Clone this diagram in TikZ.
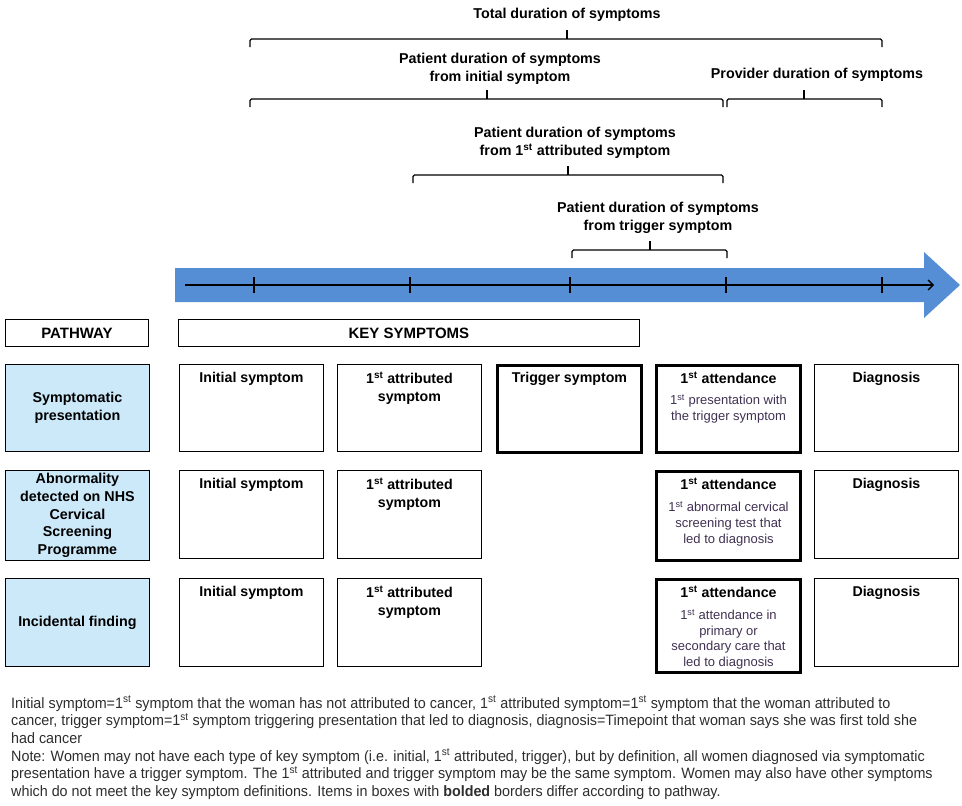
\documentclass[tikz,border=0pt]{standalone}
\usepackage{fontspec}
\setmainfont{Liberation Sans}
\newfontfamily\notefont[FakeStretch=0.955]{Liberation Sans}
\usetikzlibrary{arrows.meta,positioning}
\definecolor{arrowblue}{RGB}{85,142,213}
\definecolor{pathblue}{RGB}{204,233,250}
\definecolor{subtxt}{RGB}{64,49,82}
\definecolor{notetxt}{RGB}{45,45,45}
\newcommand\durbrace[4]{%
  \draw[brc] (#1,#4+8) -- (#1,#4) -- (#2,#4) -- (#2,#4+8);
  \draw[brc] (#3,#4) -- (#3,#4-9);}
\begin{document}
\begin{tikzpicture}[x=1pt,y=-1pt,
  brc/.style={line width=1.4pt, rounded corners=1.5pt},
  toplbl/.style={font=\bfseries\fontsize{14.3}{18}\selectfont, align=center, inner sep=0},
  cell/.style={draw, line width=0.9pt, minimum width=144, minimum height=#1, inner sep=0, anchor=north west},
  thickcell/.style={cell=#1, line width=3pt},
  pathcell/.style={cell=#1, fill=pathblue, align=center, font=\bfseries\fontsize{14.3}{17.8}\selectfont},
  hdr/.style={draw, line width=0.9pt, minimum height=27, inner sep=0, anchor=north west, font=\bfseries\fontsize{15}{16}\selectfont},
  ttl/.style={font=\bfseries\fontsize{14.2}{18}\selectfont, align=center, inner sep=0, anchor=north},
  sub/.style={font=\fontsize{13}{15.8}\selectfont, text=subtxt, align=center, inner sep=0, anchor=north},
]
\useasboundingbox (0,0) rectangle (962,806);

% ---- top labels and braces
\node[toplbl] (ltot) at (567,15) {Total duration of symptoms};
\durbrace{250}{882}{567}{39}
\node[toplbl] (lpi) at (500,69) {Patient duration of symptoms\\from initial symptom};
\durbrace{250}{723}{487}{99}
\node[toplbl] (lprov) at (817,75) {Provider duration of symptoms};
\durbrace{727}{882}{804}{99}
\node[toplbl] (lpa) at (575,143) {Patient duration of symptoms\\from 1\textsuperscript{st} attributed symptom};
\durbrace{413}{723}{568}{175}
\node[toplbl] (lpt) at (658,218) {Patient duration of symptoms\\from trigger symptom};
\durbrace{572}{727}{650}{250}

% ---- timeline arrow
\fill[arrowblue] (175,268) -- (924,268) -- (924,252) -- (960,285) -- (924,318) -- (924,302) -- (175,302) -- cycle;
\coordinate (tl) at (185,285);
\coordinate (tr) at (934,285);
\draw[line width=1.3pt, -{Straight Barb[length=5pt,width=10pt,line width=1.3pt]}] (tl) -- (tr);
\foreach \x in {254,410,570,726,882}
  \draw[line width=1.3pt] (\x,277) -- (\x,293);

% ---- header boxes
\node[hdr, minimum width=143] (hpath) at (5,319) {PATHWAY};
\node[hdr, minimum width=461] (hkey) at (178,319) {KEY SYMPTOMS};

% ---- row 1
\node[pathcell=87] (p1) at (5,364) {Symptomatic\\presentation};
\node[cell=87] (a1) at (179,364) {};
\node[cell=87] (b1) at (337,364) {};
\node[thickcell=87] (c1) at (496,364) {};
\node[thickcell=87] (d1) at (655,364) {};
\node[cell=87] (e1) at (814,364) {};
\node[ttl] (a1t) at ([yshift=-8]a1.north) {Initial symptom};
\node[ttl] (b1t) at ([yshift=-8]b1.north) {1\textsuperscript{st} attributed\\symptom};
\node[ttl] (c1t) at ([yshift=-8]c1.north) {Trigger symptom};
\node[ttl] (d1t) at ([yshift=-8]d1.north) {1\textsuperscript{st} attendance};
\node[sub] (d1s) at ([yshift=-10]d1t.south) {1\textsuperscript{st} presentation with\\the trigger symptom};
\node[ttl] (e1t) at ([yshift=-8]e1.north) {Diagnosis};

% ---- row 2
\node[pathcell=90] (p2) at (5,470) {Abnormality\\detected on NHS\\Cervical\\Screening\\Programme};
\node[cell=88] (a2) at (179,470) {};
\node[cell=88] (b2) at (337,470) {};
\node[thickcell=89] (d2) at (655,470) {};
\node[cell=88] (e2) at (814,470) {};
\node[ttl] (a2t) at ([yshift=-8]a2.north) {Initial symptom};
\node[ttl] (b2t) at ([yshift=-8]b2.north) {1\textsuperscript{st} attributed\\symptom};
\node[ttl] (d2t) at ([yshift=-8]d2.north) {1\textsuperscript{st} attendance};
\node[sub] (d2s) at ([yshift=-11]d2t.south) {1\textsuperscript{st} abnormal cervical\\screening test that\\led to diagnosis};
\node[ttl] (e2t) at ([yshift=-8]e2.north) {Diagnosis};

% ---- row 3
\node[pathcell=88] (p3) at (5,578) {Incidental finding};
\node[cell=88] (a3) at (179,578) {};
\node[cell=88] (b3) at (337,578) {};
\node[thickcell=93] (d3) at (655,578) {};
\node[cell=88] (e3) at (814,578) {};
\node[ttl] (a3t) at ([yshift=-8]a3.north) {Initial symptom};
\node[ttl] (b3t) at ([yshift=-8]b3.north) {1\textsuperscript{st} attributed\\symptom};
\node[ttl] (d3t) at ([yshift=-8]d3.north) {1\textsuperscript{st} attendance};
\node[sub, font=\fontsize{13}{15.6}\selectfont] (d3s) at ([yshift=-11]d3t.south) {1\textsuperscript{st} attendance in\\primary or\\secondary care that\\led to diagnosis};
\node[ttl] (e3t) at ([yshift=-8]e3.north) {Diagnosis};

% ---- footnote
\node[anchor=north west, inner sep=0, align=left, text=notetxt,
      font=\notefont\fontsize{15}{17.6}\selectfont] (note) at (11,696)
{Initial symptom=1\textsuperscript{st} symptom that the woman has not attributed to cancer, 1\textsuperscript{st} attributed symptom=1\textsuperscript{st} symptom that the woman attributed to\\
cancer, trigger symptom=1\textsuperscript{st} symptom triggering presentation that led to diagnosis, diagnosis=Timepoint that woman says she was first told she\\
had cancer\\
Note: Women may not have each type of key symptom (i.e. initial, 1\textsuperscript{st} attributed, trigger), but by definition, all women diagnosed via symptomatic\\
presentation have a trigger symptom. The 1\textsuperscript{st} attributed and trigger symptom may be the same symptom. Women may also have other symptoms\\
which do not meet the key symptom definitions. Items in boxes with \textbf{bolded} borders differ according to pathway.};
\end{tikzpicture}
\end{document}
